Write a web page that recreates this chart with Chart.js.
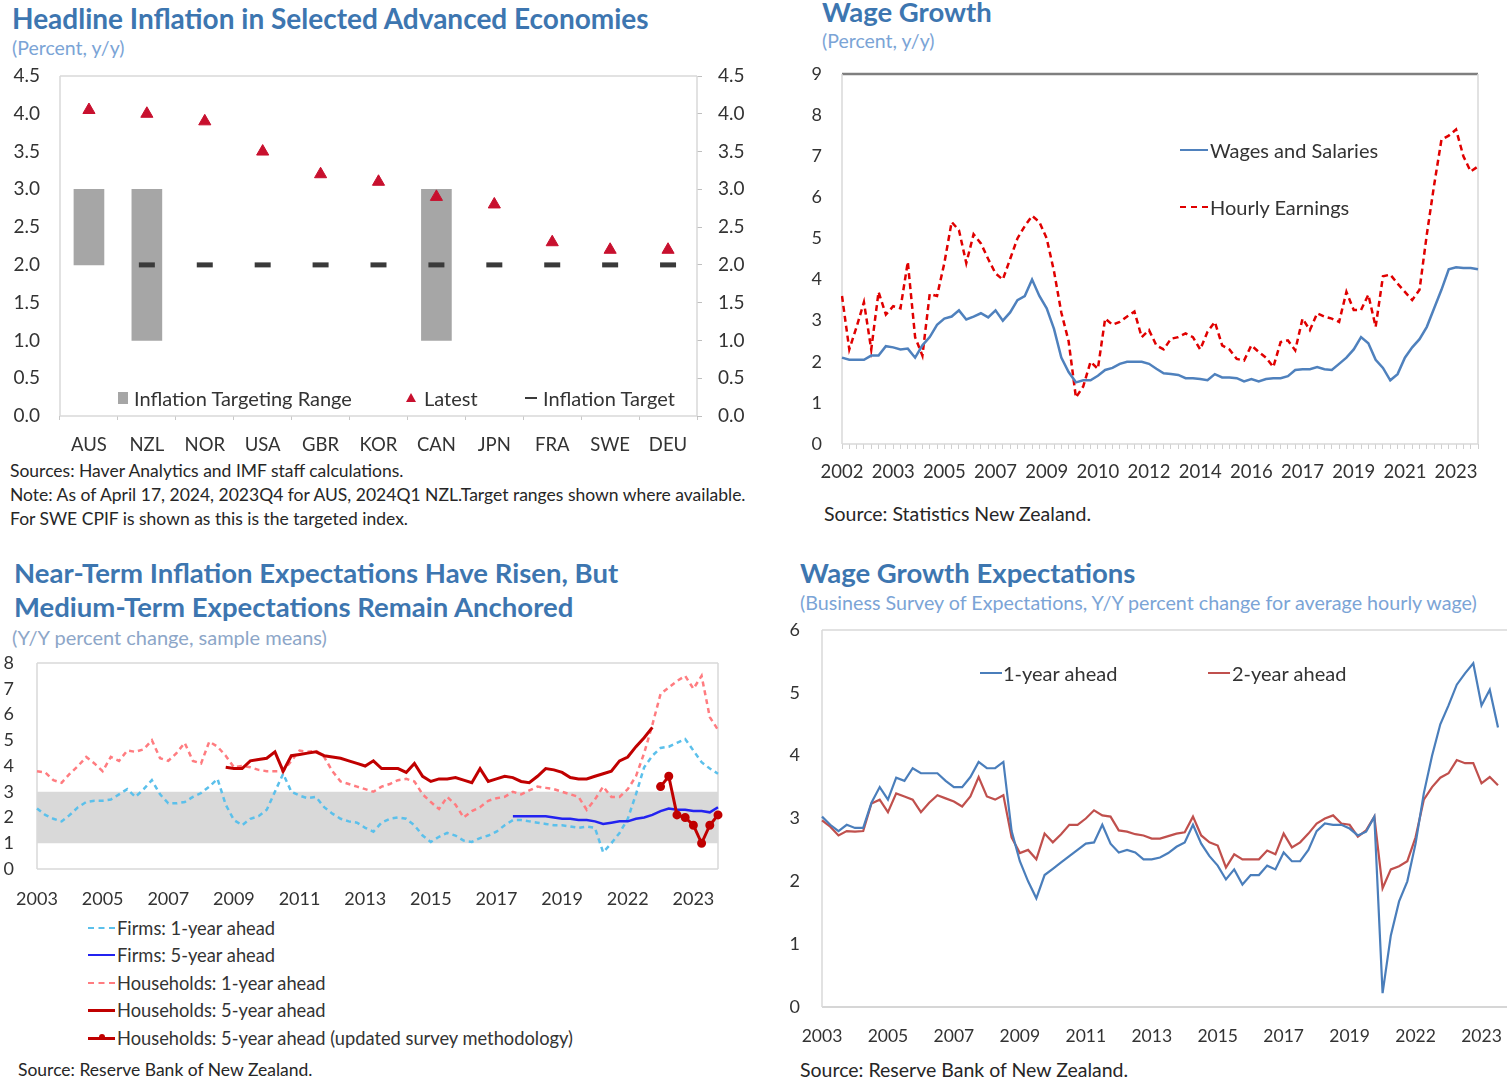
<!DOCTYPE html>
<html>
<head>
<meta charset="utf-8">
<script src="https://cdn.jsdelivr.net/npm/chart.js@4.4.0/dist/chart.umd.min.js"></script>
<style>
  html, body { margin: 0; padding: 0; background: #fff; }
  body { width: 1507px; height: 1080px; position: relative; overflow: hidden; font-family: Lato, "Open Sans", sans-serif; color: #333; }
  .box { position: absolute; }
  .t { position: absolute; white-space: nowrap; line-height: 1; }
  .title { font-weight: 700; font-size: 27.5px; color: #3D76B0; }
  .sub { font-size: 19.5px; color: #7BA4D6; }
  .note { font-size: 17.5px; color: #262626; }
  .leg { font-size: 20px; color: #333; }
  .ln { position: absolute; height: 0; }
</style>
</head>
<body>

<!-- panel 1 -->
<div class="t title" style="left:12px;top:4px;font-size:28px;">Headline Inflation in Selected Advanced Economies</div>
<div class="t sub" style="left:12px;top:38px;">(Percent, y/y)</div>
<div class="box" style="left:0;top:60px;width:760px;height:400px;"><canvas id="c1"></canvas></div>
<div class="box" style="left:118px;top:392px;width:10px;height:12px;background:#A6A6A6;"></div>
<div class="t leg" style="left:134px;top:388px;">Inflation Targeting Range</div>
<div class="box" style="left:406px;top:393px;width:0;height:0;border-left:5px solid transparent;border-right:5px solid transparent;border-bottom:9px solid #C8102E;"></div>
<div class="t leg" style="left:424px;top:388px;">Latest</div>
<div class="box" style="left:525px;top:397px;width:12px;height:2px;background:#3A3A3A;"></div>
<div class="t leg" style="left:543px;top:388px;">Inflation Target</div>
<div class="t note" style="left:10px;top:462px;">Sources: Haver Analytics and IMF staff calculations.</div>
<div class="t note" style="left:10px;top:486px;">Note: As of April 17, 2024, 2023Q4 for AUS, 2024Q1 NZL.Target ranges shown where available.</div>
<div class="t note" style="left:10px;top:510px;">For SWE CPIF is shown as this is the targeted index.</div>

<!-- panel 2 -->
<div class="t title" style="left:822px;top:-2px;">Wage Growth</div>
<div class="t sub" style="left:822px;top:31px;">(Percent, y/y)</div>
<div class="box" style="left:800px;top:60px;width:707px;height:430px;"><canvas id="c2"></canvas></div>
<div class="ln" style="left:1180px;top:149px;width:28px;border-top:2.5px solid #4F81BD;"></div>
<div class="t leg" style="left:1210px;top:140px;">Wages and Salaries</div>
<div class="ln" style="left:1180px;top:206px;width:28px;border-top:2.5px dashed #E00000;"></div>
<div class="t leg" style="left:1210px;top:197px;">Hourly Earnings</div>
<div class="t note" style="left:824px;top:504px;font-size:19.5px;">Source: Statistics New Zealand.</div>

<!-- panel 3 -->
<div class="t title" style="left:14px;top:559px;">Near-Term Inflation Expectations Have Risen, But</div>
<div class="t title" style="left:14px;top:593px;">Medium-Term Expectations Remain Anchored</div>
<div class="t sub" style="left:12px;top:627px;color:#8DA6C8;font-size:20px;">(Y/Y percent change, sample means)</div>
<div class="box" style="left:0;top:650px;width:740px;height:265px;"><canvas id="c3"></canvas></div>
<div class="ln" style="left:88px;top:927px;width:27px;border-top:2.5px dashed #5BC0EB;"></div>
<div class="t leg" style="left:117px;top:919px;font-size:18.3px;">Firms: 1-year ahead</div>
<div class="ln" style="left:88px;top:954px;width:27px;border-top:2.5px solid #2323F0;"></div>
<div class="t leg" style="left:117px;top:946px;font-size:18.3px;">Firms: 5-year ahead</div>
<div class="ln" style="left:88px;top:982px;width:27px;border-top:2.5px dashed #FF7C80;"></div>
<div class="t leg" style="left:117px;top:974px;font-size:18.3px;">Households: 1-year ahead</div>
<div class="ln" style="left:88px;top:1009px;width:27px;border-top:3px solid #C00000;"></div>
<div class="t leg" style="left:117px;top:1001px;font-size:18.3px;">Households: 5-year ahead</div>
<div class="ln" style="left:88px;top:1037px;width:27px;border-top:3px solid #C00000;"></div>
<div class="box" style="left:99px;top:1034px;width:6px;height:6px;border-radius:3px;background:#C00000;"></div>
<div class="t leg" style="left:117px;top:1029px;font-size:18.3px;">Households: 5-year ahead (updated survey methodology)</div>
<div class="t note" style="left:18px;top:1061px;">Source: Reserve Bank of New Zealand.</div>

<!-- panel 4 -->
<div class="t title" style="left:800px;top:559px;">Wage Growth Expectations</div>
<div class="t sub" style="left:800px;top:593px;font-size:19.7px;">(Business Survey of Expectations, Y/Y percent change for average hourly wage)</div>
<div class="box" style="left:780px;top:618px;width:727px;height:440px;"><canvas id="c4"></canvas></div>
<div class="ln" style="left:980px;top:672px;width:22px;border-top:2.5px solid #4A7EBB;"></div>
<div class="t leg" style="left:1003px;top:663px;">1-year ahead</div>
<div class="ln" style="left:1208px;top:672px;width:22px;border-top:2.5px solid #C0504D;"></div>
<div class="t leg" style="left:1232px;top:663px;">2-year ahead</div>
<div class="t note" style="left:800px;top:1060px;font-size:19.5px;">Source: Reserve Bank of New Zealand.</div>

<script>
// ---- panel 1: headline inflation ----
const countries = ['AUS', 'NZL', 'NOR', 'USA', 'GBR', 'KOR', 'CAN', 'JPN', 'FRA', 'SWE', 'DEU'];
const latest = [4.05, 4.0, 3.9, 3.5, 3.2, 3.1, 2.9, 2.8, 2.3, 2.2, 2.2];
const target = [null, 2, 2, 2, 2, 2, 2, 2, 2, 2, 2];
const rangeLow = [2, 1, null, null, null, null, 1, null, null, null, null];
const rangeHigh = [3, 3, null, null, null, null, 3, null, null, null, null];

// ---- panel 2: wage growth (quarterly, 2002Q1-2023Q4) ----
const wageTicks = ['2002', '2003', '2005', '2007', '2009', '2010', '2012', '2014', '2016', '2017', '2019', '2021', '2023'];
const wagesSalaries = [
  2.1, 2.05, 2.05, 2.05, 2.15, 2.15, 2.38, 2.35, 2.3, 2.32,
  2.1, 2.4, 2.6, 2.9, 3.05, 3.1, 3.25, 3.03, 3.1, 3.18,
  3.08, 3.25, 3.0, 3.2, 3.5, 3.6, 4.0, 3.6, 3.3, 2.8,
  2.1, 1.75, 1.5, 1.55, 1.55, 1.66, 1.8, 1.85, 1.95, 2.0,
  2.0, 2.0, 1.95, 1.83, 1.72, 1.7, 1.68, 1.6, 1.6, 1.58,
  1.55, 1.7, 1.62, 1.62, 1.6, 1.52, 1.58, 1.52, 1.58, 1.6,
  1.6, 1.65, 1.8, 1.82, 1.82, 1.87, 1.82, 1.8, 1.95, 2.1,
  2.3, 2.6, 2.45, 2.05, 1.85, 1.55, 1.7, 2.1, 2.35, 2.55,
  2.85, 3.3, 3.75, 4.25, 4.3, 4.28, 4.28, 4.25
];
const hourlyEarnings = [
  3.6, 2.3, 2.85, 3.45, 2.3, 3.7, 3.15, 3.35, 3.3, 4.43,
  2.6, 2.15, 3.65, 3.6, 4.4, 5.4, 5.2, 4.4, 5.1, 4.88,
  4.5, 4.15, 4.0, 4.5, 5.0, 5.3, 5.55, 5.4, 5.0, 4.2,
  3.2, 2.5, 1.13, 1.4, 2.0, 1.83, 3.05, 2.9, 2.97, 3.1,
  3.22, 2.6, 2.77, 2.4, 2.3, 2.56, 2.6, 2.69, 2.6, 2.3,
  2.73, 2.97, 2.4, 2.3, 2.07, 2.03, 2.4, 2.24, 2.1, 1.87,
  2.48, 2.52, 2.28, 3.05, 2.77, 3.18, 3.1, 3.05, 2.97, 3.7,
  3.26, 3.26, 3.63, 2.85, 4.08, 4.12, 3.9, 3.7, 3.5, 3.75,
  5.1, 6.3, 7.4, 7.5, 7.65, 7.0, 6.63, 6.75
];

// ---- panel 3: inflation expectations (84 points) ----
const expTicks = ['2003', '2005', '2007', '2009', '2011', '2013', '2015', '2017', '2019', '2022', '2023'];
const targetBand = [1, 3];
const firms1y = [
  2.35, 2.1, 1.95, 1.85, 2.1, 2.4, 2.6, 2.65, 2.65, 2.7,
  2.9, 3.1, 2.8, 3.1, 3.45, 2.9, 2.55, 2.55, 2.6, 2.8,
  2.95, 3.2, 3.5, 2.5, 1.9, 1.7, 1.95, 2.05, 2.3, 3.0,
  3.7, 3.0, 2.85, 2.75, 2.8, 2.4, 2.15, 1.95, 1.85, 1.8,
  1.6, 1.45, 1.8, 1.95, 2.0, 1.95, 1.7, 1.3, 1.05, 1.25,
  1.4, 1.3, 1.1, 1.05, 1.2, 1.3, 1.45, 1.7, 1.9, 1.9,
  1.85, 1.8, 1.75, 1.7, 1.7, 1.65, 1.6, 1.65, 1.6, 0.65,
  1.0, 1.4, 1.95, 2.9, 3.95, 4.4, 4.7, 4.75, 4.9, 5.05,
  4.6, 4.15, 3.9, 3.7
];
const firms5yStart = 58;
const firms5y = [
  2.05, 2.05, 2.05, 2.05, 2.05, 2.0, 1.95, 1.95, 1.9, 1.9,
  1.85, 1.75, 1.8, 1.85, 1.85, 1.95, 2.0, 2.1, 2.25, 2.35,
  2.3, 2.3, 2.25, 2.25, 2.2, 2.4
];
const hh1y = [
  3.8, 3.75, 3.45, 3.35, 3.7, 4.0, 4.35, 4.1, 3.8, 4.35,
  4.2, 4.6, 4.55, 4.65, 5.0, 4.3, 4.2, 4.5, 4.9, 4.2,
  4.1, 4.95, 4.75, 4.4, 3.95, 4.0, 3.95, 3.85, 3.8, 3.8,
  3.8, 4.2, 4.6, 4.55, 4.6, 4.35, 3.8, 3.4, 3.3, 3.2,
  3.1, 3.0, 3.2, 3.3, 3.45, 3.5, 3.4, 2.9, 2.6, 2.33,
  2.8, 2.5, 2.0, 2.25, 2.4, 2.65, 2.75, 2.8, 3.0, 2.9,
  3.05, 3.2, 3.15, 3.1, 3.0, 2.9, 2.8, 2.3, 2.7, 3.2,
  2.8, 2.8, 3.1, 3.6, 4.5, 5.6, 6.8, 7.05, 7.3, 7.5,
  7.0, 7.5, 5.9, 5.4
];
const hh5yStart = 23;
const hh5y = [
  3.95, 3.9, 3.9, 4.2, 4.25, 4.3, 4.55, 3.8, 4.4, 4.45,
  4.5, 4.55, 4.4, 4.35, 4.3, 4.2, 4.1, 4.0, 4.2, 3.9,
  3.9, 3.9, 3.75, 4.1, 3.6, 3.4, 3.5, 3.5, 3.55, 3.45,
  3.35, 3.9, 3.4, 3.5, 3.6, 3.55, 3.4, 3.35, 3.6, 3.9,
  3.85, 3.75, 3.55, 3.5, 3.5, 3.6, 3.7, 3.8, 4.2, 4.35,
  4.75, 5.1, 5.5
];
const hh5yNewStart = 76;
const hh5yNew = [3.2, 3.6, 2.1, 2.0, 1.7, 1.0, 1.7, 2.1];

// ---- panel 4: wage growth expectations (83 points) ----
const wageExp1y = [
  3.03, 2.9, 2.8, 2.9, 2.85, 2.85, 3.25, 3.5, 3.3, 3.65,
  3.6, 3.8, 3.72, 3.72, 3.72, 3.6, 3.5, 3.5, 3.66, 3.9,
  3.8, 3.8, 3.9, 2.8, 2.32, 2.0, 1.73, 2.1, 2.2, 2.3,
  2.4, 2.5, 2.6, 2.62, 2.9, 2.6, 2.46, 2.5, 2.46, 2.35,
  2.35, 2.38, 2.45, 2.55, 2.62, 2.9, 2.6, 2.4, 2.25, 2.03,
  2.19, 1.95, 2.1, 2.1, 2.25, 2.19, 2.46, 2.32, 2.32, 2.5,
  2.8, 2.92, 2.9, 2.9, 2.84, 2.73, 2.79, 3.03, 0.22, 1.14,
  1.68, 2.0, 2.6, 3.4, 4.0, 4.5, 4.8, 5.13, 5.31, 5.47,
  4.8, 5.05, 4.45
];
const wageExp2y = [
  2.97, 2.87, 2.73, 2.8, 2.79, 2.8, 3.24, 3.3, 3.1, 3.4,
  3.35, 3.3, 3.1, 3.25, 3.37, 3.32, 3.27, 3.19, 3.35, 3.66,
  3.35, 3.3, 3.37, 2.7, 2.45, 2.5, 2.35, 2.76, 2.62, 2.75,
  2.9, 2.9, 3.0, 3.13, 3.05, 3.03, 2.81, 2.79, 2.75, 2.73,
  2.68, 2.68, 2.72, 2.76, 2.78, 3.03, 2.73, 2.62, 2.57, 2.22,
  2.43, 2.35, 2.35, 2.35, 2.49, 2.43, 2.76, 2.54, 2.62, 2.76,
  2.92, 3.0, 3.05, 2.92, 2.9, 2.71, 2.81, 3.03, 1.89, 2.19,
  2.24, 2.32, 2.7, 3.3, 3.5, 3.65, 3.72, 3.93, 3.88, 3.88,
  3.56, 3.66, 3.53
];

// helpers
function spacedLabels(n, step, ticks) {
  return Array.from({ length: n }, (_, i) => (i % step === 0 && ticks[i / step]) ? ticks[i / step] : '');
}
function padSeries(n, start, values) {
  const out = new Array(n).fill(null);
  values.forEach((v, i) => { out[start + i] = v; });
  return out;
}
// fixed axis sizes so the plot areas land where they do in the picture
function fixY(w) {
  return function (s) { s.width = w; s.paddingTop = 0; s.paddingBottom = 0; };
}
function fixX(h) {
  return function (s) { s.height = h; s.paddingLeft = 0; s.paddingRight = 0; };
}

// draws the light frame around the plot area
const framePlugin = {
  id: 'frame',
  beforeDatasetsDraw(chart, args, o) {
    const a = chart.chartArea, ctx = chart.ctx;
    const side = (c, w, x1, y1, x2, y2) => {
      if (!c) return;
      ctx.strokeStyle = c;
      ctx.lineWidth = w;
      ctx.beginPath();
      ctx.moveTo(x1, y1);
      ctx.lineTo(x2, y2);
      ctx.stroke();
    };
    ctx.save();
    side(o.top, o.topWidth || 1.5, a.left, a.top, o.topTo || a.right, a.top);
    side(o.right, 1.5, a.right, a.top, a.right, a.bottom);
    side(o.bottom, 1.5, a.left, a.bottom, o.bottomTo || a.right, a.bottom);
    side(o.left, 1.5, a.left, a.top, a.left, a.bottom);
    ctx.restore();
  }
};

Chart.defaults.font.family = 'Lato, "Open Sans", sans-serif';
Chart.defaults.color = '#333';
Chart.defaults.animation = false;
Chart.defaults.plugins.legend.display = false;
Chart.defaults.plugins.tooltip.enabled = false;
Chart.defaults.maintainAspectRatio = false;

const lightGray = '#D9D9D9';

// Panel 1
new Chart(document.getElementById('c1'), {
  type: 'bar',
  plugins: [framePlugin],
  data: {
    labels: countries,
    datasets: [
      {
        type: 'line', label: 'Latest', data: latest, showLine: false,
        pointStyle: 'triangle', pointRadius: 7,
        pointBackgroundColor: '#C8102E', pointBorderColor: '#C8102E', order: 1
      },
      {
        type: 'line', label: 'Inflation Target', data: target, showLine: false,
        pointStyle: 'line', pointRadius: 8, pointBorderWidth: 5,
        pointBorderColor: '#3A3A3A', order: 2
      },
      {
        label: 'Inflation Targeting Range',
        data: rangeLow.map((lo, i) => lo === null ? null : [lo, rangeHigh[i]]),
        backgroundColor: '#A6A6A6', barThickness: 30, order: 3
      }
    ]
  },
  options: {
    layout: { padding: { top: 16 } },
    plugins: { frame: { top: lightGray, right: lightGray, bottom: lightGray, left: lightGray } },
    scales: {
      x: {
        grid: { offset: true, drawOnChartArea: false, tickLength: 4, color: '#C8C8C8' },
        border: { display: false },
        ticks: { font: { size: 18.5 }, color: '#333', padding: 14, maxRotation: 0 },
        afterFit: fixX(44)
      },
      y: {
        min: 0, max: 4.5,
        ticks: { stepSize: 0.5, callback: v => v.toFixed(1), font: { size: 19 }, padding: 20 },
        grid: { display: false, drawTicks: false },
        border: { display: false },
        afterFit: fixY(60)
      },
      y2: {
        position: 'right', min: 0, max: 4.5,
        ticks: { stepSize: 0.5, callback: v => v.toFixed(1), font: { size: 19 }, padding: 16 },
        grid: { drawOnChartArea: false, tickLength: 5, color: '#BFBFBF' },
        border: { display: false },
        afterFit: fixY(63)
      }
    }
  }
});

// Panel 2
new Chart(document.getElementById('c2'), {
  type: 'line',
  plugins: [framePlugin],
  data: {
    labels: spacedLabels(wagesSalaries.length, 7, wageTicks),
    datasets: [
      { label: 'Wages and Salaries', data: wagesSalaries, borderColor: '#4F81BD', borderWidth: 2.5, pointRadius: 0 },
      { label: 'Hourly Earnings', data: hourlyEarnings, borderColor: '#E00000', borderWidth: 2.5, borderDash: [6, 4], pointRadius: 0 }
    ]
  },
  options: {
    layout: { padding: { top: 14, right: 29 } },
    plugins: { frame: { top: '#7F7F7F', topWidth: 2.5, right: lightGray, bottom: lightGray, left: lightGray } },
    scales: {
      x: {
        ticks: { autoSkip: false, maxRotation: 0, font: { size: 18.5 }, padding: 12 },
        grid: { drawOnChartArea: false, tickLength: 5, color: '#D0D0D0' },
        border: { display: false },
        afterFit: fixX(46)
      },
      y: {
        min: 0, max: 9,
        ticks: { stepSize: 1, font: { size: 18 }, padding: 20 },
        grid: { display: false, drawTicks: false },
        border: { display: false },
        afterFit: fixY(42)
      }
    }
  }
});

// Panel 3
const n3 = firms1y.length;
new Chart(document.getElementById('c3'), {
  type: 'line',
  plugins: [framePlugin],
  data: {
    labels: spacedLabels(n3, 8, expTicks),
    datasets: [
      { label: 'band low', data: new Array(n3).fill(targetBand[0]), borderWidth: 0, pointRadius: 0, fill: false, order: 10 },
      { label: 'band high', data: new Array(n3).fill(targetBand[1]), borderWidth: 0, pointRadius: 0, fill: '-1', backgroundColor: '#D9D9D9', order: 9 },
      { label: 'Firms: 1-year ahead', data: firms1y, borderColor: '#5BC0EB', borderWidth: 2.5, borderDash: [5, 4], pointRadius: 0, order: 5 },
      { label: 'Firms: 5-year ahead', data: padSeries(n3, firms5yStart, firms5y), borderColor: '#2323F0', borderWidth: 2.5, pointRadius: 0, order: 2 },
      { label: 'Households: 1-year ahead', data: hh1y, borderColor: '#FF7C80', borderWidth: 2.5, borderDash: [5, 4], pointRadius: 0, order: 4 },
      { label: 'Households: 5-year ahead', data: padSeries(n3, hh5yStart, hh5y), borderColor: '#C00000', borderWidth: 3, pointRadius: 0, order: 3 },
      {
        label: 'Households: 5-year ahead (updated survey methodology)', data: padSeries(n3, hh5yNewStart, hh5yNew),
        borderColor: '#C00000', borderWidth: 3, pointRadius: 3, pointBackgroundColor: '#C00000', pointBorderColor: '#C00000', order: 1
      }
    ]
  },
  options: {
    layout: { padding: { top: 13, right: 22 } },
    plugins: { frame: { top: lightGray, right: lightGray, bottom: lightGray, left: lightGray } },
    scales: {
      x: {
        ticks: { autoSkip: false, maxRotation: 0, font: { size: 18 }, padding: 19 },
        grid: { display: false, drawTicks: false },
        border: { display: false },
        afterFit: fixX(46)
      },
      y: {
        min: 0, max: 8,
        ticks: { stepSize: 1, font: { size: 18 }, padding: 23 },
        grid: { display: false, drawTicks: false },
        border: { display: false },
        afterFit: fixY(37)
      }
    }
  }
});

// Panel 4 (plot runs off the right edge of the picture)
new Chart(document.getElementById('c4'), {
  type: 'line',
  plugins: [framePlugin],
  data: {
    labels: spacedLabels(wageExp1y.length, 8, expTicks),
    datasets: [
      { label: '1-year ahead', data: wageExp1y, borderColor: '#4A7EBB', borderWidth: 2.2, pointRadius: 0 },
      { label: '2-year ahead', data: wageExp2y, borderColor: '#C0504D', borderWidth: 2.2, pointRadius: 0 }
    ]
  },
  options: {
    layout: { padding: { top: 12, right: 9 } },
    plugins: { frame: { top: lightGray, left: lightGray, bottom: '#C8C8C8', topTo: 727, bottomTo: 727 } },
    scales: {
      x: {
        ticks: { autoSkip: false, maxRotation: 0, font: { size: 17.5 }, padding: 19 },
        grid: { display: false, drawTicks: false },
        border: { display: false },
        afterFit: fixX(51)
      },
      y: {
        min: 0, max: 6,
        ticks: { stepSize: 1, font: { size: 18 }, padding: 22 },
        grid: { display: false, drawTicks: false },
        border: { display: false },
        afterFit: fixY(42)
      }
    }
  }
});
</script>
</body>
</html>
